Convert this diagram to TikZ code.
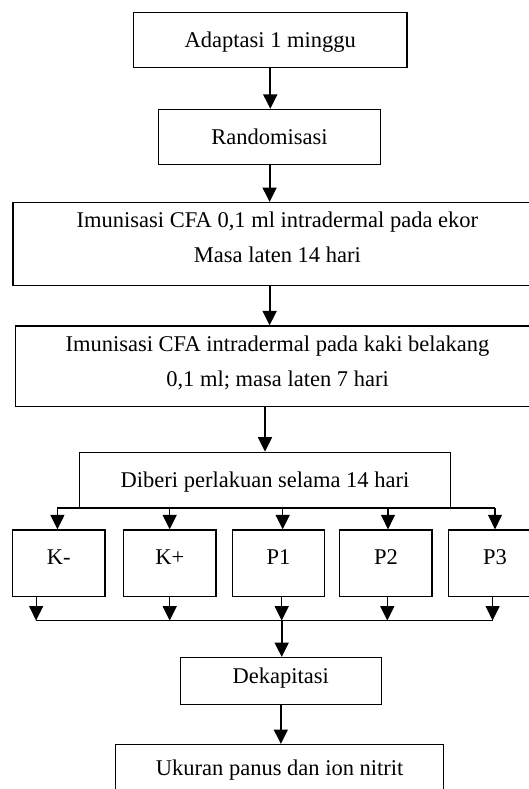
\documentclass[tikz,border=0pt]{standalone}
\usepackage{fontspec}
\setmainfont{Liberation Serif}
\usepackage{tikz}
\usetikzlibrary{positioning, arrows.meta}
\tikzset{
stage/.style={draw, line width=0.7pt, inner sep=0pt, align=center, font=\fontsize{11.25}{17.75}\selectfont},
oneline/.style={stage, text height=17.4pt, text depth=10.2pt},
twoline/.style={stage, text height=30.05pt, text depth=11.3pt},
group/.style={stage, minimum width=46.25pt, text height=17.3pt, text depth=15.95pt},
flow/.style={-{Triangle[width=7pt, length=7.2pt]}, line width=0.9pt},
thinflow/.style={flow, line width=0.55pt},
branch/.style={line width=0.55pt}}
\begin{document}
\begin{tikzpicture}[x=0.5pt, y=-0.5pt]
\useasboundingbox (0,0) rectangle (529,789);
\node [oneline, minimum width=136.7pt] at (270.3, 40.15) (adapt) {Adaptasi 1 minggu};
\node [oneline, minimum width=111pt] at (269.6, 137.1) (rand) {Randomisasi};
\node [twoline, minimum width=264.6pt] at (277.4, 243.95) (imun-1) {Imunisasi CFA 0,1 ml intradermal pada ekor\\Masa laten 14 hari};
\node [twoline, minimum width=262.3pt, text height=30.25pt, text depth=10.1pt] at (277.5, 366.35) (imun-2) {Imunisasi CFA intradermal pada kaki belakang\\0,1 ml; masa laten 7 hari};
\node [oneline, minimum width=185.7pt, text height=17.55pt, text depth=10.3pt] at (265, 480.15) (treat) {Diberi perlakuan selama 14 hari};
\node [stage, minimum width=100.35pt, text height=12.85pt, text depth=10.45pt] at (280.85, 680.9) (dek) {Dekapitasi};
\node [stage, minimum width=164pt, text height=15.2pt, text depth=12.5pt] at (279.7, 772.3) (measure) {Ukuran panus dan ion nitrit};

\draw [flow] (adapt) -- (adapt |- rand.north);
\draw [flow] (rand) -- (rand |- imun-1.north);
\draw [flow] (imun-1.south -| rand) -- (rand |- imun-2.north);
\draw [flow] (imun-2.south -| treat) -- (treat.north);

\foreach \glabel/\gx/\inx/\outx [count=\g] in {K-/58.7/57.4/36.1, K+/169.85/169.7/169.7, P1/278.5/282.7/281.7, P2/385.9/388/387.3, P3/494.9/495/492.6}{
      \node [group] at (\gx, 563.25) (grp-\g) {\glabel};
      \coordinate (in-\g) at (\inx, 508);
      \coordinate (out-\g) at (\outx, 620.5);
      \draw [thinflow] (in-\g) -- (in-\g |- grp-\g.north);
      \draw [thinflow] (out-\g |- grp-\g.south) -- (out-\g);
}
\draw [branch] (in-1) -- (in-5);
\draw [branch] (out-1) -- (out-5);
\draw [flow] (out-3) -- (out-3 |- dek.north);
\draw [flow] (dek) -- (dek |- measure.north);
\end{tikzpicture}
\end{document}
